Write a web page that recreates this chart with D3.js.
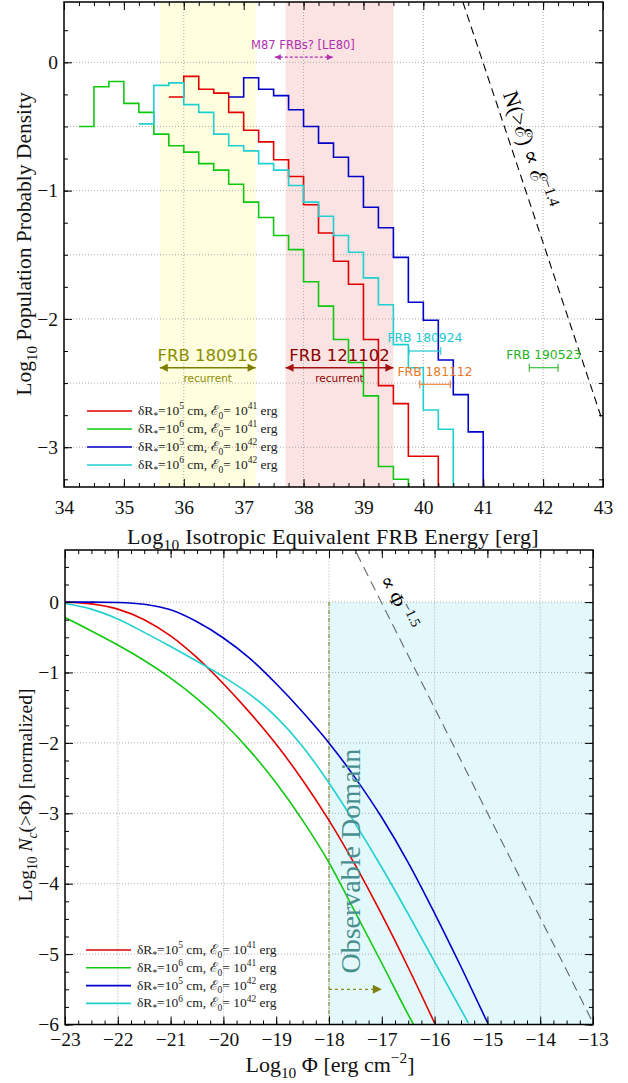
<!DOCTYPE html>
<html><head><meta charset="utf-8">
<script src="https://cdn.jsdelivr.net/npm/d3@7"></script>
<style>body{margin:0;background:#fff}svg{display:block}</style>
</head><body><svg id="c" width="628" height="1083"></svg>
<script>
// ---------------- DATA: top panel (histograms) ----------------
const energyBins = [34.25,34.5,34.75,35,35.25,35.5,35.75,36,36.25,36.5,36.75,37,37.25,37.5,37.75,38,38.25,38.5,38.75,39,39.25,39.5,39.75,40,40.25,40.5,40.75];
const binWidth = 0.25;
const histRed   = [null,null,null,null,null,null,-0.27,-0.11,-0.21,-0.24,-0.39,-0.53,-0.62,-0.76,-0.89,-1.11,-1.33,-1.55,-1.73,-2.16,-2.52,-2.66,-3.07,-3.07,null,null,null];
const histGreen = [-0.50,-0.19,-0.15,-0.32,-0.39,-0.56,-0.65,-0.70,-0.79,-0.84,-0.95,-1.09,-1.21,-1.35,-1.46,-1.71,-1.90,-2.16,-2.34,-2.60,-3.15,-3.25,null,null,null,null,null];
const histBlue  = [null,null,null,null,null,null,null,null,null,null,-0.27,-0.12,-0.21,-0.26,-0.37,-0.50,-0.63,-0.74,-0.89,-1.13,-1.29,-1.52,-1.87,-2.01,-2.32,-2.59,-2.88];
const histCyan  = [null,null,null,null,-0.48,-0.18,-0.16,-0.33,-0.39,-0.56,-0.65,-0.69,-0.79,-0.84,-0.96,-1.09,-1.20,-1.35,-1.48,-1.68,-1.89,-2.20,-2.38,-2.71,-2.86,null,null];
const seriesColors = ["#e00000","#10c810","#0000c8","#20d0d0"];
const legendParts = [["5","41"],["6","41"],["5","42"],["6","42"]];
const energyTicks = [34,35,36,37,38,39,40,41,42,43];
const densityTicks = [0,-1,-2,-3];
const energyGrid = [36,38,40,42];
const densityGrid = [0,-0.5,-1,-1.5,-2,-2.5,-3];
const repeaterBands = [{name:"FRB 180916", from:35.6, to:37.2, fill:"#ffffe0", color:"#8b8b00", arrow:"#7d7d00"},
                       {name:"FRB 121102", from:37.7, to:39.5, fill:"#fbe3e3", color:"#8b0000", arrow:"#a51010"}];
const frbNames  = ["FRB 180924","FRB 181112","FRB 190523"];
const frbLo     = [39.76, 39.94, 41.77];
const frbHi     = [40.29, 40.45, 42.25];
const frbLevel  = [-2.25, -2.51, -2.38];
const frbColors = ["#20c8d0","#e8782a","#22b422"];
const m87Range = [37.52, 38.49];
const m87Level = 0.04;
const energyLaw = [[40.66,0.47],[42.98,-2.78]];

// ---------------- DATA: bottom panel (cumulative curves) ----------------
const fluxRed   = [-23,-22.5,-22,-21.5,-21,-20.5,-20,-19.5,-19,-18.5,-18,-17.5,-17,-16.5,-16];
const curveRed  = [0,-0.025,-0.10,-0.25,-0.48,-0.79,-1.16,-1.57,-2.02,-2.53,-3.10,-3.74,-4.44,-5.19,-5.98];
const fluxGreen = [-23,-22.5,-22,-21.5,-21,-20.5,-20,-19.5,-19,-18.5,-18,-17.5,-17,-16.5,-16.4];
const curveGreen= [-0.22,-0.41,-0.61,-0.83,-1.08,-1.37,-1.71,-2.11,-2.57,-3.10,-3.70,-4.41,-5.13,-5.86,-6.0];
const fluxBlue  = [-23,-22.5,-22,-21.5,-21,-20.5,-20,-19.5,-19,-18.5,-18,-17.5,-17,-16.5,-16,-15.5,-15];
const curveBlue = [0,0,-0.005,-0.03,-0.11,-0.28,-0.51,-0.80,-1.16,-1.56,-2.0,-2.50,-3.06,-3.70,-4.42,-5.18,-5.97];
const fluxCyan  = [-23,-22.5,-22,-21.5,-21,-20.5,-20,-19.5,-19,-18.5,-18,-17.5,-17,-16.5,-16,-15.5,-15.36];
const curveCyan = [-0.02,-0.10,-0.24,-0.43,-0.63,-0.84,-1.06,-1.31,-1.63,-2.05,-2.57,-3.15,-3.77,-4.43,-5.11,-5.79,-5.98];
const fluxTicks = [-23,-22,-21,-20,-19,-18,-17,-16,-15,-14,-13];
const countTicks = [0,-1,-2,-3,-4,-5,-6];
const fluxGrid = [-22,-20,-18,-16,-14];
const countGrid = [0,-1,-2,-3,-4,-5];
const observable = {from:-18, to:-13, top:0, bottom:-6};
const observableArrow = [[-18,-5.5],[-17.0,-5.5]];
const fluxLaw = [[-17.48,0.70],[-13.03,-5.93]];

// ---------------- SETUP ----------------
const svg = d3.select("#c");
const SERIF = "'Liberation Serif','DejaVu Serif',serif";
const SANS = "'DejaVu Sans',sans-serif";
const defs = svg.append("defs");

function marker(id, color, w, h) {
  defs.append("marker").attr("id", id).attr("viewBox","0 0 10 10").attr("refX",10).attr("refY",5)
    .attr("markerUnits","userSpaceOnUse").attr("markerWidth",w).attr("markerHeight",h)
    .attr("orient","auto-start-reverse")
    .append("path").attr("d","M0,0 L10,5 L0,10 z").attr("fill",color);
}

function rich(sel, parts, fs) {
  let shift = 0;
  parts.forEach(p => {
    const target = p.sub ? 0.28*fs : (p.sup ? -0.42*fs : 0);
    const ts = sel.append("tspan").text(p.t).attr("dy", target - shift);
    shift = target;
    if (p.sub || p.sup) ts.attr("font-size", fs*0.7);
    if (p.it) ts.attr("font-style","italic");
  });
}

function frame(g, x, y, xMaj, xMin, yMaj, yMin, xPad, fs) {
  const [x0,x1] = x.range(), [y0,y1] = y.range();
  const fmt = d3.format("d");
  const mk = (axis, tr) => {
    const a = g.append("g").attr("transform", tr).call(axis);
    a.select(".domain").remove();
    a.selectAll("line").attr("stroke","#000").attr("stroke-width",1);
    a.selectAll("text").attr("font-family",SERIF).attr("font-size",fs).attr("fill","#111");
    return a;
  };
  mk(d3.axisBottom(x).tickValues(xMin).tickSize(-4).tickFormat(""), `translate(0,${y0})`);
  mk(d3.axisBottom(x).tickValues(xMaj).tickSize(-8).tickPadding(xPad).tickFormat(fmt), `translate(0,${y0})`);
  mk(d3.axisTop(x).tickValues(xMin).tickSize(-4).tickFormat(""), `translate(0,${y1})`);
  mk(d3.axisTop(x).tickValues(xMaj).tickSize(-8).tickFormat(""), `translate(0,${y1})`);
  mk(d3.axisLeft(y).tickValues(yMin).tickSize(-4).tickFormat(""), `translate(${x0},0)`);
  mk(d3.axisLeft(y).tickValues(yMaj).tickSize(-8).tickPadding(6).tickFormat(fmt), `translate(${x0},0)`);
  mk(d3.axisRight(y).tickValues(yMin).tickSize(-4).tickFormat(""), `translate(${x1},0)`);
  mk(d3.axisRight(y).tickValues(yMaj).tickSize(-8).tickFormat(""), `translate(${x1},0)`);
  g.append("rect").attr("x",x0).attr("y",y1).attr("width",x1-x0).attr("height",y0-y1)
    .attr("fill","none").attr("stroke","#000").attr("stroke-width",1.5);
}
function grid(g, x, y, gx, gy) {
  const [x0,x1] = x.range(), [y0,y1] = y.range();
  g.selectAll(null).data(gx).join("line").attr("x1",d=>x(d)).attr("x2",d=>x(d)).attr("y1",y0).attr("y2",y1)
    .attr("stroke","#aaa").attr("stroke-dasharray","1,2").attr("stroke-width",1);
  g.selectAll(null).data(gy).join("line").attr("y1",d=>y(d)).attr("y2",d=>y(d)).attr("x1",x0).attr("x2",x1)
    .attr("stroke","#aaa").attr("stroke-dasharray","1,2").attr("stroke-width",1);
}
function minorTicks(dom, step) { const out=[]; for (let v=Math.ceil(dom[0]/step)*step; v<=dom[1]+1e-9; v+=step) out.push(+v.toFixed(4)); return out; }
function legend(g, x0, y0, dy) {
  seriesColors.forEach((c,i) => {
    const yy = y0 + i*dy;
    g.append("line").attr("x1",x0).attr("x2",x0+45).attr("y1",yy).attr("y2",yy).attr("stroke",c).attr("stroke-width",1.6);
    const t = g.append("text").attr("x",x0+51).attr("y",yy+4).attr("font-family",SERIF).attr("font-size",13.5).attr("fill","#222");
    rich(t, [{t:"δR"},{t:"*",sub:1},{t:"=10"},{t:legendParts[i][0],sup:1},{t:" cm, ℰ"},{t:"0",sub:1},{t:"= 10"},{t:legendParts[i][1],sup:1},{t:" erg"}], 13.5);
  });
}

// ================= TOP PANEL =================
const xE = d3.scaleLinear().domain([34,43]).range([64,603]);
const yD = d3.scaleLinear().domain([-3.31,0.47]).range([487,2]);
const topG = svg.append("g");
topG.append("clipPath").attr("id","clipTop").append("rect").attr("x",64).attr("y",2).attr("width",539).attr("height",485);

repeaterBands.forEach(b => topG.append("rect").attr("x",xE(b.from)).attr("width",xE(b.to)-xE(b.from))
  .attr("y",yD(0.47)).attr("height",yD(-3.31)-yD(0.47)).attr("fill",b.fill));
grid(topG, xE, yD, energyGrid, densityGrid);

[histRed,histGreen,histBlue,histCyan].forEach((h,i) => {
  const pts = [];
  energyBins.forEach((e,j) => { if (h[j] !== null) pts.push([e,h[j]]); });
  const endE = pts[pts.length-1][0] + binWidth;
  pts.push([endE, pts[pts.length-1][1]]);
  pts.push([endE, yD.domain()[0]-1]);
  topG.append("path").attr("d", d3.line().x(d=>xE(d[0])).y(d=>yD(d[1]))(
      pts.flatMap((p,k) => k===0 ? [p] : [[p[0], pts[k-1][1]], p])))
    .attr("fill","none").attr("stroke",seriesColors[i]).attr("stroke-width",1.6).attr("clip-path","url(#clipTop)");
});

// power law line
topG.append("path").attr("d", d3.line().x(d=>xE(d[0])).y(d=>yD(d[1]))(energyLaw))
  .attr("stroke","#000").attr("stroke-width",1.1).attr("stroke-dasharray","8,5").attr("fill","none");
{
  const ang = Math.atan2(yD(energyLaw[1][1])-yD(energyLaw[0][1]), xE(energyLaw[1][0])-xE(energyLaw[0][0]))*180/Math.PI;
  const t = topG.append("text").attr("transform",`translate(${xE(41.65)},${yD(-0.70)}) rotate(${ang})`)
    .attr("text-anchor","middle").attr("font-family",SERIF).attr("font-size",22).attr("fill","#000");
  rich(t, [{t:"N(>ℰ) ∝ ℰ"},{t:"−1.4",sup:1}], 22);
}

// M87 annotation
marker("mM87","#b030b0",7,6);
topG.append("line").attr("x1",xE(m87Range[0])).attr("x2",xE(m87Range[1])).attr("y1",yD(m87Level)).attr("y2",yD(m87Level))
  .attr("stroke","#b030b0").attr("stroke-width",1.2).attr("stroke-dasharray","3,2")
  .attr("marker-start","url(#mM87)").attr("marker-end","url(#mM87)");
topG.append("text").attr("x",xE(37.99)).attr("y",yD(0.10)).attr("text-anchor","middle")
  .attr("font-family",SANS).attr("font-size",11.5).attr("fill","#b030b0").text("M87 FRBs? [LE80]");

// repeater annotations
repeaterBands.forEach((b,i) => {
  marker("mRep"+i, b.arrow, 10, 8);
  const mid = (b.from+b.to)/2;
  topG.append("line").attr("x1",xE(b.from)).attr("x2",xE(b.to)).attr("y1",yD(-2.38)).attr("y2",yD(-2.38))
    .attr("stroke",b.arrow).attr("stroke-width",1.5).attr("marker-start",`url(#mRep${i})`).attr("marker-end",`url(#mRep${i})`);
  topG.append("text").attr("x",xE(mid)).attr("y",yD(-2.325)).attr("text-anchor","middle")
    .attr("font-family",SANS).attr("font-size",16.5).attr("fill",b.color).text(b.name);
  topG.append("text").attr("x",xE(mid)).attr("y",yD(-2.49)).attr("text-anchor","middle")
    .attr("font-family",SANS).attr("font-size",10.5).attr("fill",b.color).text("recurrent");
});

// one-off FRBs
frbNames.forEach((n,i) => {
  const yy = yD(frbLevel[i]);
  topG.append("line").attr("x1",xE(frbLo[i])).attr("x2",xE(frbHi[i])).attr("y1",yy).attr("y2",yy).attr("stroke",frbColors[i]).attr("stroke-width",1.3).attr("opacity",0.8);
  [frbLo[i],frbHi[i]].forEach(v => topG.append("line").attr("x1",xE(v)).attr("x2",xE(v)).attr("y1",yy-4).attr("y2",yy+4).attr("stroke",frbColors[i]).attr("stroke-width",1.3).attr("opacity",0.8));
  topG.append("text").attr("x",xE((frbLo[i]+frbHi[i])/2)).attr("y",yy-8.5).attr("text-anchor","middle")
    .attr("font-family",SANS).attr("font-size",12.3).attr("fill",frbColors[i]).text(n);
});

frame(topG, xE, yD, energyTicks, minorTicks([34,43],0.25), densityTicks, minorTicks([-3.25,0.25],0.25), 13, 19.5);
legend(topG, 87, 411, 18);

// axis labels
{
  const t = svg.append("text").attr("transform","translate(31,244) rotate(-90)").attr("text-anchor","middle")
    .attr("font-family",SERIF).attr("font-size",21.5).attr("fill","#111");
  rich(t, [{t:"Log"},{t:"10",sub:1},{t:" Population Probably Density"}], 21.5);
  const u = svg.append("text").attr("x",333).attr("y",544).attr("text-anchor","middle")
    .attr("font-family",SERIF).attr("font-size",22).attr("letter-spacing",0.3).attr("fill","#111");
  rich(u, [{t:"Log"},{t:"10",sub:1},{t:" Isotropic Equivalent FRB Energy [erg]"}], 22);
}

// ================= BOTTOM PANEL =================
const xF = d3.scaleLinear().domain([-23,-13]).range([65,593]);
const yN = d3.scaleLinear().domain([-6,0.74]).range([1024.5,550]);
const botG = svg.append("g");
botG.append("clipPath").attr("id","clipBot").append("rect").attr("x",65).attr("y",550).attr("width",528).attr("height",474.5);

botG.append("rect").attr("x",xF(observable.from)).attr("width",xF(observable.to)-xF(observable.from))
  .attr("y",yN(observable.top)).attr("height",yN(observable.bottom)-yN(observable.top)).attr("fill","#e2f8fb");
grid(botG, xF, yN, fluxGrid, countGrid);
botG.append("line").attr("x1",xF(observable.from)).attr("x2",xF(observable.from)).attr("y1",yN(observable.top)).attr("y2",yN(observable.bottom))
  .attr("stroke","#8a8a30").attr("stroke-width",1.2).attr("stroke-dasharray","4,1.5,1,1.5");

const smooth = d3.line().x(d=>xF(d[0])).y(d=>yN(d[1])).curve(d3.curveMonotoneX);
[[fluxRed,curveRed],[fluxGreen,curveGreen],[fluxBlue,curveBlue],[fluxCyan,curveCyan]].forEach((s,i) => {
  botG.append("path").attr("d", smooth(s[0].map((x,k)=>[x,s[1][k]]))).attr("fill","none")
    .attr("stroke",seriesColors[i]).attr("stroke-width",1.6).attr("clip-path","url(#clipBot)");
});

botG.append("path").attr("d", d3.line().x(d=>xF(d[0])).y(d=>yN(d[1]))(fluxLaw))
  .attr("stroke","#666").attr("stroke-width",1.1).attr("stroke-dasharray","10,6").attr("fill","none");
{
  const ang = Math.atan2(yN(fluxLaw[1][1])-yN(fluxLaw[0][1]), xF(fluxLaw[1][0])-xF(fluxLaw[0][0]))*180/Math.PI;
  const t = botG.append("text").attr("transform",`translate(${xF(-16.8)},${yN(-0.05)}) rotate(${ang})`)
    .attr("text-anchor","middle").attr("font-family",SERIF).attr("font-size",20).attr("fill","#000");
  rich(t, [{t:"∝ Φ"},{t:"−1.5",sup:1}], 20);
}

marker("mObs","#808010",13,9);
botG.append("line").attr("x1",xF(observableArrow[0][0])).attr("x2",xF(observableArrow[1][0]))
  .attr("y1",yN(observableArrow[0][1])).attr("y2",yN(observableArrow[1][1]))
  .attr("stroke","#8a8a20").attr("stroke-width",1.3).attr("stroke-dasharray","3,3").attr("marker-end","url(#mObs)");
botG.append("text").attr("transform",`translate(${xF(-17.41)},${yN(-3.68)}) rotate(-90)`).attr("text-anchor","middle")
  .attr("font-family",SERIF).attr("font-size",28).attr("fill","#4a8f8f").text("Observable Domain");

frame(botG, xF, yN, fluxTicks, minorTicks([-23,-13],0.25), countTicks, minorTicks([-6,0.5],0.25), 8, 19.5);
legend(botG, 86, 950, 17.8);

{
  const t = svg.append("text").attr("transform","translate(32,795) rotate(-90)").attr("text-anchor","middle")
    .attr("font-family",SERIF).attr("font-size",19.5).attr("fill","#111");
  rich(t, [{t:"Log"},{t:"10",sub:1},{t:" "},{t:"N",it:1},{t:"c",sub:1,it:1},{t:"(>Φ) [normalized]"}], 19.5);
  const u = svg.append("text").attr("x",330).attr("y",1072).attr("text-anchor","middle")
    .attr("font-family",SERIF).attr("font-size",22).attr("fill","#111");
  rich(u, [{t:"Log"},{t:"10",sub:1},{t:" Φ [erg cm"},{t:"−2",sup:1},{t:"]"}], 22);
}
</script></body></html>
